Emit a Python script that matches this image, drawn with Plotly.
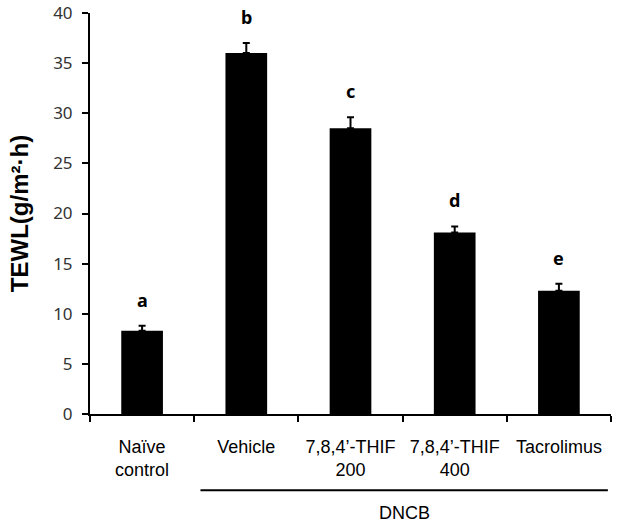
import plotly.graph_objects as go

categories = ["Naïve<br>control", "Vehicle", "7,8,4’-THIF<br>200", "7,8,4’-THIF<br>400", "Tacrolimus"]
values = [8.3, 36.0, 28.5, 18.1, 12.3]
errors = [0.5, 1.0, 1.1, 0.6, 0.7]
letters = ["a", "b", "c", "d", "e"]
y_ticks = [0, 5, 10, 15, 20, 25, 30, 35, 40]

FONT = "Liberation Sans, Arial, sans-serif"
YFONT = "Noto Sans, Liberation Sans, sans-serif"

fig = go.Figure()
fig.add_trace(go.Bar(
    x=categories, y=values,
    marker=dict(color="black", line=dict(color="black", width=0)),
    width=0.4,
    error_y=dict(type="data", array=errors, arrayminus=[0]*len(errors), symmetric=False,
                 color="black", thickness=2, width=3.5),
    showlegend=False,
))

for c, v, e, l in zip(categories, values, errors, letters):
    fig.add_annotation(x=c, y=v + e + 2.6, text="<b>%s</b>" % l, showarrow=False,
                       xref="x", yref="y", yanchor="middle",
                       font=dict(family=YFONT, size=18, color="black"))

# DNCB group line and label
fig.add_shape(type="line", xref="x", yref="paper", x0=0.56, x1=4.47, y0=-0.19, y1=-0.19,
              line=dict(color="black", width=2))
fig.add_annotation(x=2.52, y=-0.247, xref="x", yref="paper", text="DNCB", showarrow=False,
                   yanchor="middle", font=dict(family=FONT, size=18, color="black"))

fig.update_layout(
    width=618, height=526,
    margin=dict(l=90, r=7, t=13, b=112),
    plot_bgcolor="white", paper_bgcolor="white",
    font=dict(family=FONT, color="black"),
    xaxis=dict(
        type="category", range=[-0.5, 4.5], tickson="boundaries",
        showline=True, linecolor="black", linewidth=2,
        ticks="outside", ticklen=6, tickwidth=2, tickcolor="black",
        tickfont=dict(family=FONT, size=18, color="black"),
        ticklabelstandoff=15,
        showgrid=False, zeroline=False, automargin=False,
    ),
    yaxis=dict(
        range=[0, 40], tickvals=y_ticks,
        showline=True, linecolor="black", linewidth=2,
        ticks="outside", ticklen=6, tickwidth=2, tickcolor="black",
        tickfont=dict(family=YFONT, size=17, color="#333"),
        ticklabelstandoff=6, ticklabeloverflow="allow",
        showgrid=False, zeroline=False, automargin=False,
        title=dict(text="<b>TEWL(g/m²·h)</b>", font=dict(family=FONT, size=24, color="black"), standoff=18),
    ),
)

fig.write_html("out.html", config={"displayModeBar": False},
               post_script="document.body.style.margin='0px';")
